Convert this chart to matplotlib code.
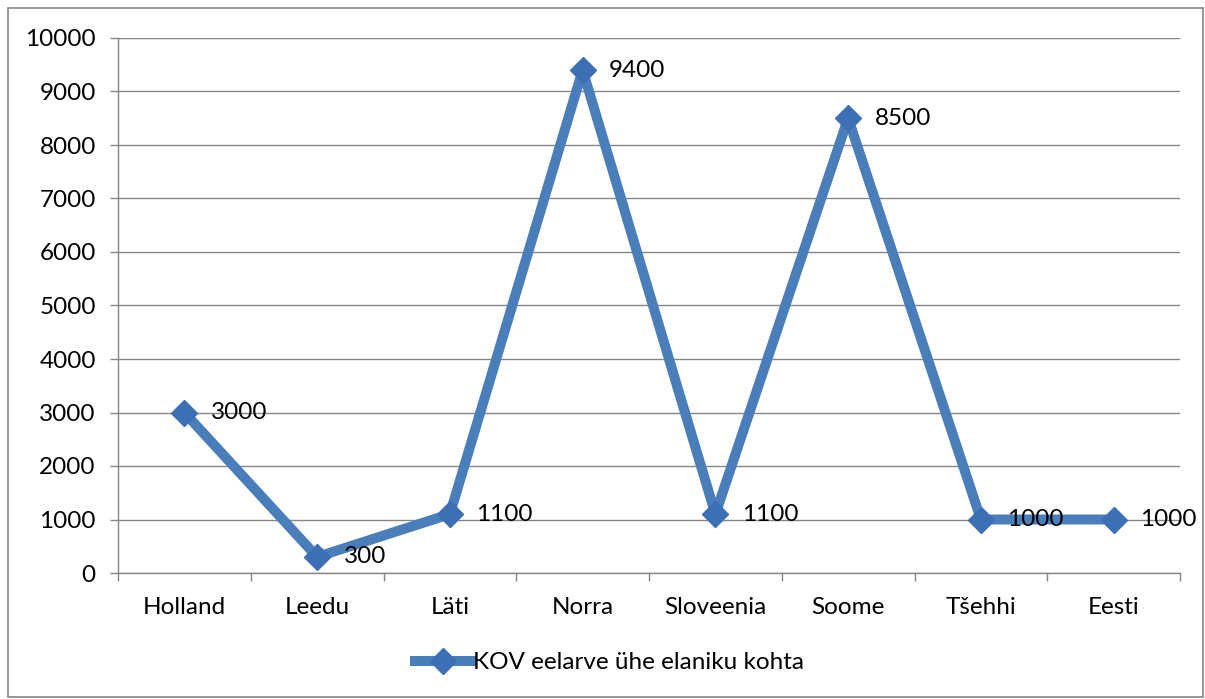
import matplotlib.pyplot as plt
from matplotlib.patches import Rectangle
import numpy as np

plt.rcParams['font.family'] = ['Lato', 'DejaVu Sans']

riigid = ['Holland', 'Leedu', 'Läti', 'Norra', 'Sloveenia', 'Soome', 'Tšehhi', 'Eesti']
eelarve = [3000, 300, 1100, 9400, 1100, 8500, 1000, 1000]
y_ticks = [0, 1000, 2000, 3000, 4000, 5000, 6000, 7000, 8000, 9000, 10000]

sinine = '#4a7ebb'
hall = '#868686'
fs = 17.5

fig = plt.figure(figsize=(12.05, 6.99), dpi=100)
ax = fig.add_axes([118/1205, 126/699, 1062/1205, 535/699])

x = np.arange(len(riigid))
ax.plot(x, eelarve, color=sinine, lw=7.2, marker='D', ms=13,
        mfc='#3d6fb5', mec='#3d6fb5', solid_joinstyle='round',
        label='KOV eelarve ühe elaniku kohta', zorder=3)

for xi, v in zip(x, eelarve):
    ax.annotate(str(v), (xi, v), xytext=(19, 0), textcoords='offset points',
                ha='left', va='center', fontsize=fs, color='black', zorder=4)

ax.set_xlim(-0.5, len(riigid) - 0.5)
ax.set_ylim(0, 10000)
ax.set_yticks(y_ticks)
ax.set_xticks(x)
ax.set_xticklabels(riigid)
ax.set_xticks(np.arange(len(riigid) + 1) - 0.5, minor=True)

ax.tick_params(axis='x', which='major', length=0, pad=17, labelsize=fs)
ax.tick_params(axis='x', which='minor', length=6, color=hall, width=1)
ax.tick_params(axis='y', length=6, color=hall, width=1, pad=10, labelsize=fs)

ax.grid(axis='y', color=hall, lw=1, zorder=0)
for s in ['top', 'right']:
    ax.spines[s].set_visible(False)
for s in ['left', 'bottom']:
    ax.spines[s].set_color(hall)
    ax.spines[s].set_linewidth(1)

fig.legend(loc='center', bbox_to_anchor=(0.506, 0.052), frameon=False,
           fontsize=fs, handlelength=2.3, handletextpad=0.1)

# raam ümber kogu joonise
fig.patches.append(Rectangle((8/1205, 2/699), 1195/1205, 689/699, transform=fig.transFigure,
                             fill=False, edgecolor=hall, lw=1.2))

fig.savefig('out.png', dpi=100)
